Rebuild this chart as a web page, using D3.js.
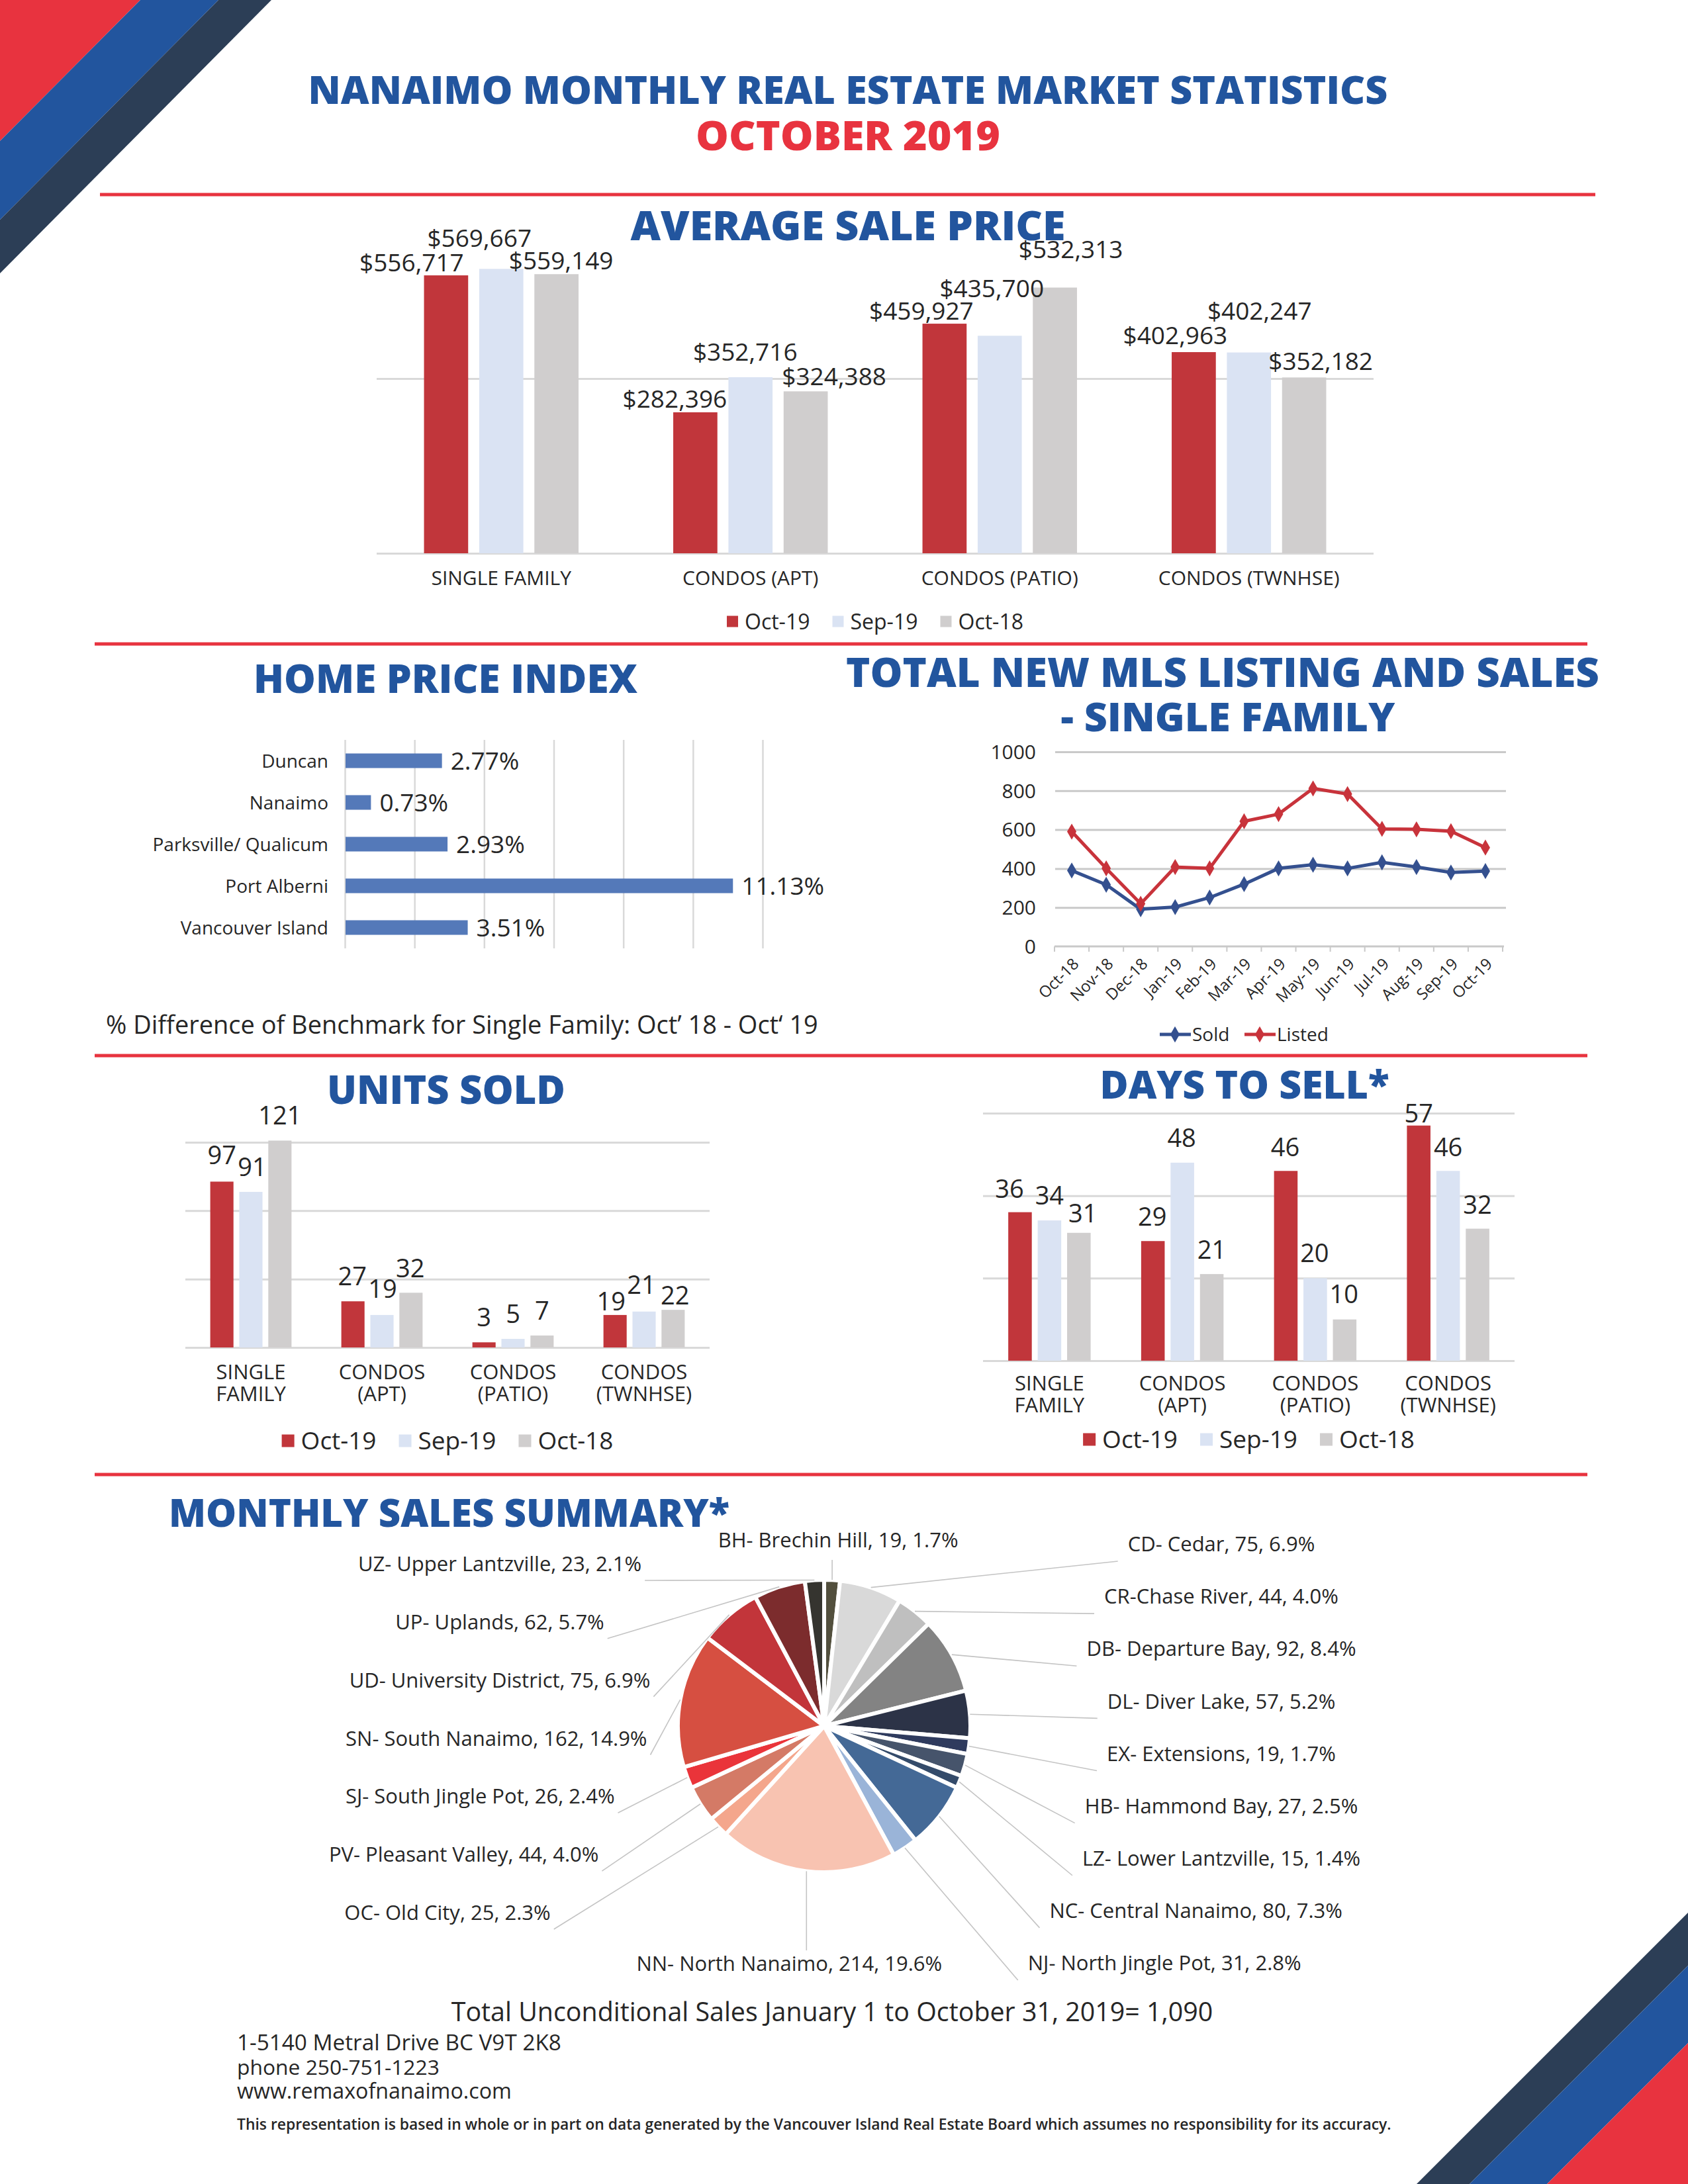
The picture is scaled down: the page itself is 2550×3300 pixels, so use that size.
<!DOCTYPE html>
<html>
<head>
<meta charset="utf-8">
<script src="https://cdn.jsdelivr.net/npm/d3@7"></script>
<style>
  body { margin: 0; background: #fff; }
  svg { display: block; }
</style>
</head>
<body>
<svg id="page"></svg>
<script>
// ---- data ----
const periods = ['Oct-19', 'Sep-19', 'Oct-18'];

const priceCats = ['SINGLE FAMILY', 'CONDOS (APT)', 'CONDOS (PATIO)', 'CONDOS (TWNHSE)'];
const priceOct19 = [556717, 282396, 459927, 402963];
const priceSep19 = [569667, 352716, 435700, 402247];
const priceOct18 = [559149, 324388, 532313, 352182];

const hpiAreas = ['Duncan', 'Nanaimo', 'Parksville/ Qualicum', 'Port Alberni', 'Vancouver Island'];
const hpiChange = [2.77, 0.73, 2.93, 11.13, 3.51];

const months = ['Oct-18', 'Nov-18', 'Dec-18', 'Jan-19', 'Feb-19', 'Mar-19', 'Apr-19',
  'May-19', 'Jun-19', 'Jul-19', 'Aug-19', 'Sep-19', 'Oct-19'];
const soldSF = [390, 317, 191, 202, 251, 320, 401, 420, 401, 432, 408, 380, 387];
const listedSF = [590, 401, 219, 408, 401, 643, 680, 812, 783, 604, 602, 592, 508];

const typeCats = [['SINGLE', 'FAMILY'], ['CONDOS', '(APT)'], ['CONDOS', '(PATIO)'], ['CONDOS', '(TWNHSE)']];
const unitsOct19 = [97, 27, 3, 19];
const unitsSep19 = [91, 19, 5, 21];
const unitsOct18 = [121, 32, 7, 22];

const daysOct19 = [36, 29, 46, 57];
const daysSep19 = [34, 48, 20, 46];
const daysOct18 = [31, 21, 10, 32];

const areaNames = ['BH- Brechin Hill', 'CD- Cedar', 'CR-Chase River', 'DB- Departure Bay', 'DL- Diver Lake',
  'EX- Extensions', 'HB- Hammond Bay', 'LZ- Lower Lantzville', 'NC- Central Nanaimo', 'NJ- North Jingle Pot',
  'NN- North Nanaimo', 'OC- Old City', 'PV- Pleasant Valley', 'SJ- South Jingle Pot', 'SN- South Nanaimo',
  'UD- University District', 'UP- Uplands', 'UZ- Upper Lantzville'];
const areaSales = [19, 75, 44, 92, 57, 19, 27, 15, 80, 31, 214, 25, 44, 26, 162, 75, 62, 23];

const totalSalesNote = 'Total Unconditional Sales January 1 to October 31, 2019= 1,090';

// ---- page ----
const W = 2550, H = 3300;
const FONT = "'Open Sans', 'Noto Sans', sans-serif";
const BLUE = '#22559e', RED = '#e8333f', NAVY = '#2c3e56', INK = '#262626';
const barColors = ['#c1363b', '#dae3f3', '#d0cece'];

const svg = d3.select('#page').attr('width', W).attr('height', H)
  .style('font-family', FONT);
svg.append('rect').attr('width', W).attr('height', H).attr('fill', '#fff');

// corner stripes
const stripes = [
  [[0, 0], [212, 0], [0, 213], RED],
  [[212, 0], [330, 0], [0, 332], [0, 213], BLUE],
  [[330, 0], [410, 0], [0, 413], [0, 332], NAVY],
  [[2140, 3300], [2220, 3300], [2550, 2970], [2550, 2890], NAVY],
  [[2220, 3300], [2337, 3300], [2550, 3087], [2550, 2970], BLUE],
  [[2337, 3300], [2550, 3300], [2550, 3087], RED]
];
stripes.forEach(s => {
  const pts = s.slice(0, -1);
  svg.append('polygon').attr('points', pts.map(p => p.join(',')).join(' ')).attr('fill', s[s.length - 1]);
});

// red rules
[[151, 2410, 294], [143, 2398, 973], [143, 2398, 1595], [143, 2398, 2228]].forEach(r => {
  svg.append('line').attr('x1', r[0]).attr('x2', r[1]).attr('y1', r[2]).attr('y2', r[2])
    .attr('stroke', RED).attr('stroke-width', 5);
});

function fitWidth(t, w) {
  const cur = t.node().getComputedTextLength();
  t.attr('font-size', parseFloat(t.attr('font-size')) * w / cur);
  return t;
}

function heading(txt, x, y, w, color, anchor) {
  const t = svg.append('text').attr('x', x).attr('y', y)
    .attr('text-anchor', anchor || 'middle')
    .attr('font-size', 56).attr('font-weight', 800)
    .attr('fill', color || BLUE).text(txt);
  return fitWidth(t, w);
}

heading('NANAIMO MONTHLY REAL ESTATE MARKET STATISTICS', 1281, 157, 1631);
heading('OCTOBER 2019', 1281, 227, 460, RED);
heading('AVERAGE SALE PRICE', 1281, 363, 657);
heading('HOME PRICE INDEX', 673, 1047, 580);
heading('TOTAL NEW MLS LISTING AND SALES', 1847, 1038, 1138);
heading('- SINGLE FAMILY', 1855, 1105, 505);
heading('UNITS SOLD', 674, 1668, 360);
heading('DAYS TO SELL*', 1880, 1660, 437);
heading('MONTHLY SALES SUMMARY*', 255, 2307, 847, BLUE, 'start');

// ---- grouped bar charts ----
function legendRow(cx, cy, fs, sq, gapIn, gapOut) {
  const lg = svg.append('g');
  let x = 0;
  periods.forEach((p, i) => {
    lg.append('rect').attr('x', x).attr('y', -sq / 2).attr('width', sq).attr('height', sq)
      .attr('fill', barColors[i]);
    x += sq + gapIn;
    const t = lg.append('text').attr('x', x).attr('dy', '0.36em')
      .attr('font-size', fs).attr('fill', INK).text(p);
    x += t.node().getComputedTextLength() + gapOut;
  });
  x -= gapOut;
  lg.attr('transform', `translate(${cx - x / 2},${cy})`);
}

function groupedBars(o) {
  const g = svg.append('g');
  const series = [o.a, o.b, o.c];
  const x0 = d3.scaleBand().domain(d3.range(o.cats.length)).range([o.left, o.right])
    .paddingInner(0.38).paddingOuter(0.19);
  const x1 = d3.scaleBand().domain(periods).range([0, x0.bandwidth()]).paddingInner(0.2);
  const y = d3.scaleLinear().domain([0, o.max]).range([o.base, o.top]);

  g.append('g').attr('transform', `translate(${o.left},0)`)
    .call(d3.axisLeft(y).tickValues(o.ticks).tickSize(-(o.right - o.left)).tickFormat(''))
    .call(a => a.select('.domain').remove())
    .call(a => a.selectAll('line').attr('stroke', '#d9d9d9').attr('stroke-width', 3));

  const cells = [];
  series.forEach((vals, s) => vals.forEach((v, i) => cells.push({ s, i, v })));

  g.selectAll('rect.bar').data(cells).enter().append('rect')
    .attr('x', d => x0(d.i) + x1(periods[d.s]))
    .attr('y', d => y(d.v))
    .attr('width', x1.bandwidth())
    .attr('height', d => o.base - y(d.v))
    .attr('fill', d => barColors[d.s]);

  g.selectAll('text.val').data(cells).enter().append('text')
    .attr('text-anchor', 'middle')
    .attr('font-size', o.valSize).attr('fill', INK)
    .attr('x', d => x0(d.i) + x1(periods[d.s]) + x1.bandwidth() / 2 + o.nudge[d.i][d.s][0])
    .attr('y', d => y(d.v) + o.nudge[d.i][d.s][1])
    .text(d => o.fmt(d.v));

  // category labels, one text element per category (lines as tspans)
  o.cats.forEach((c, i) => {
    const lines = Array.isArray(c) ? c : [c];
    const cx = x0(i) + x0.bandwidth() / 2;
    const t = g.append('text').attr('x', cx).attr('y', o.catY).attr('dy', '0.36em')
      .attr('text-anchor', 'middle').attr('font-size', o.catSize).attr('fill', INK);
    lines.forEach((ln, k) => {
      t.append('tspan').attr('x', cx).attr('y', o.catY + k * o.catStep).attr('dy', '0.36em').text(ln);
    });
  });

  legendRow((o.left + o.right) / 2, o.legendY, o.legSize, o.legSq, 10, 34);
}

// value-label nudges (dx, dy from bar top), one row per category, one pair per period
const priceLabelNudge = [
  [[-52, -6], [-33, -33], [7, -7]],
  [[-31, -7], [-8, -25], [43, -9]],
  [[-35, -6], [-12, -58], [24, -44]],
  [[-28, -12], [16, -50], [25, -11]]
];
const unitsLabelNudge = [
  [[0, -26], [2, -24], [0, -24]],
  [[-1, -24], [1, -26], [-1, -23]],
  [[0, -24], [0, -24], [0, -24]],
  [[-6, -7], [-4, -27], [3, -8]]
];
const daysLabelNudge = [
  [[-16, -22], [0, -24], [6, -16]],
  [[-1, -23], [-1, -24], [0, -23]],
  [[-1, -22], [-1, -24], [-1, -25]],
  [[0, -5], [0, -22], [0, -23]]
];

groupedBars({
  cats: priceCats, a: priceOct19, b: priceSep19, c: priceOct18,
  left: 569, right: 2075, base: 836, top: 308, max: 700000, ticks: [0, 350000],
  fmt: d3.format('$,'), valSize: 37, nudge: priceLabelNudge,
  catY: 873, catStep: 0, catSize: 30, legendY: 939, legSize: 32, legSq: 17
});

groupedBars({
  cats: typeCats, a: unitsOct19, b: unitsSep19, c: unitsOct18,
  left: 280, right: 1072, base: 2036, top: 1726, max: 120, ticks: [0, 40, 80, 120],
  fmt: d3.format('d'), valSize: 38, nudge: unitsLabelNudge,
  catY: 2073, catStep: 33, catSize: 31, legendY: 2177, legSize: 37, legSq: 19
});

groupedBars({
  cats: typeCats, a: daysOct19, b: daysSep19, c: daysOct18,
  left: 1485, right: 2288, base: 2056, top: 1682, max: 60, ticks: [0, 20, 40, 60],
  fmt: d3.format('d'), valSize: 38, nudge: daysLabelNudge,
  catY: 2090, catStep: 33, catSize: 31, legendY: 2175, legSize: 37, legSq: 19
});

// ---- home price index ----
{
  const g = svg.append('g');
  const x = d3.scaleLinear().domain([0, 12]).range([521, 1152]);
  const y = d3.scaleBand().domain(hpiAreas).range([1118, 1433]).paddingInner(0.65).paddingOuter(0.325);

  g.append('g').attr('transform', 'translate(0,1433)')
    .call(d3.axisBottom(x).tickValues(d3.range(0, 13, 2)).tickSize(-315).tickFormat(''))
    .call(a => a.select('.domain').remove())
    .call(a => a.selectAll('line').attr('stroke', '#d9d9d9').attr('stroke-width', 2.5));

  g.selectAll('rect').data(hpiChange).enter().append('rect')
    .attr('x', x(0) + 1).attr('y', (d, i) => y(hpiAreas[i]))
    .attr('width', d => x(d) - x(0)).attr('height', y.bandwidth())
    .attr('fill', '#5479b9');

  g.selectAll('text.v').data(hpiChange).enter().append('text')
    .attr('x', d => x(d) + 14).attr('y', (d, i) => y(hpiAreas[i]) + y.bandwidth() / 2)
    .attr('dy', '0.36em').attr('font-size', 37).attr('fill', INK)
    .text(d => d.toFixed(2) + '%');

  g.selectAll('text.c').data(hpiAreas).enter().append('text')
    .attr('x', 496).attr('y', d => y(d) + y.bandwidth() / 2)
    .attr('dy', '0.36em').attr('text-anchor', 'end').attr('font-size', 28)
    .attr('font-weight', 500).attr('fill', INK)
    .text(d => d);

  const note = g.append('text').attr('x', 160).attr('y', 1548).attr('dy', '0.36em')
    .attr('font-size', 34).attr('fill', INK)
    .text('% Difference of Benchmark for Single Family: Oct\u2019 18 - Oct\u2018 19');
  fitWidth(note, 1076);
}

// ---- new listings vs sales line chart ----
{
  const g = svg.append('g');
  const x = d3.scaleBand().domain(months).range([1593, 2270]);
  const y = d3.scaleLinear().domain([0, 1000]).range([1430, 1136]);
  const cxm = m => x(m) + x.bandwidth() / 2;

  g.append('g').attr('transform', 'translate(1594,0)')
    .call(d3.axisLeft(y).tickValues(d3.range(200, 1001, 200)).tickSize(-681).tickFormat(''))
    .call(a => a.select('.domain').remove())
    .call(a => a.selectAll('line').attr('stroke', '#c9c9c9').attr('stroke-width', 3));

  g.append('line').attr('x1', 1593).attr('x2', 2272).attr('y1', y(0)).attr('y2', y(0))
    .attr('stroke', '#c9c9c9').attr('stroke-width', 3);
  g.selectAll('line.tk').data(months.concat(['end'])).enter().append('line')
    .attr('x1', (d, i) => 1593 + i * x.step()).attr('x2', (d, i) => 1593 + i * x.step())
    .attr('y1', y(0)).attr('y2', y(0) + 8).attr('stroke', '#c9c9c9').attr('stroke-width', 2);

  g.selectAll('text.yt').data(d3.range(0, 1001, 200)).enter().append('text')
    .attr('x', 1565).attr('y', d => y(d)).attr('dy', '0.36em').attr('text-anchor', 'end')
    .attr('font-size', 30).attr('fill', INK).text(d => d);

  g.selectAll('text.xt').data(months).enter().append('text')
    .attr('transform', d => `translate(${cxm(d) + 6},${y(0) + 22}) rotate(-45)`)
    .attr('text-anchor', 'end').attr('dy', '0.36em')
    .attr('font-size', 24).attr('fill', INK).text(d => d);

  const line = d3.line().x((d, i) => cxm(months[i])).y(d => y(d));
  const diamond = d3.symbol().type(d3.symbolDiamond).size(170);
  [[soldSF, '#34508f'], [listedSF, '#c8333b']].forEach(([vals, col]) => {
    g.append('path').attr('d', line(vals)).attr('fill', 'none')
      .attr('stroke', col).attr('stroke-width', 5).attr('stroke-linejoin', 'round');
    g.selectAll(null).data(vals).enter().append('path')
      .attr('d', diamond)
      .attr('transform', (d, i) => `translate(${cxm(months[i])},${y(d)})`)
      .attr('fill', col);
  });

  [['Sold', '#34508f', 1752], ['Listed', '#c8333b', 1880]].forEach(([lab, col, lx]) => {
    g.append('line').attr('x1', lx).attr('x2', lx + 47).attr('y1', 1563).attr('y2', 1563)
      .attr('stroke', col).attr('stroke-width', 5);
    g.append('path').attr('d', diamond).attr('transform', `translate(${lx + 23},1563)`).attr('fill', col);
    g.append('text').attr('x', lx + 49).attr('y', 1563).attr('dy', '0.36em')
      .attr('font-size', 28).attr('fill', INK).text(lab);
  });
}

// ---- monthly sales summary pie ----
{
  const g = svg.append('g');
  const cx = 1245, cy = 2608, R = 221;
  const total = d3.sum(areaSales);
  const pieColors = ['#524f3d', '#d9d9d9', '#bfbfbf', '#838383', '#2c3347', '#2f3b5e', '#46546b',
    '#344b6a', '#446996', '#9ab4d8', '#f8c3b1', '#f4a68c', '#d47a66', '#ea343a', '#d64f41',
    '#c2353a', '#7c2c2d', '#35342f'];
  const arcs = d3.pie().sort(null).value(d => d)(areaSales);
  const arc = d3.arc().innerRadius(0).outerRadius(R);

  g.append('g').attr('transform', `translate(${cx},${cy})`)
    .selectAll('path').data(arcs).enter().append('path')
    .attr('d', arc).attr('fill', (d, i) => pieColors[i])
    .attr('stroke', '#fff').attr('stroke-width', 6).attr('stroke-linejoin', 'round');

  const items = arcs.map((a, i) => {
    const mid = (a.startAngle + a.endAngle) / 2;
    return {
      i, mid,
      px: cx + R * Math.sin(mid), py: cy - R * Math.cos(mid),
      label: `${areaNames[i]}, ${areaSales[i]}, ${(areaSales[i] / total * 100).toFixed(1)}%`
    };
  });
  const top = items.filter(d => d.mid < 0.1);
  const bottom = items.filter(d => Math.abs(d.mid - Math.PI) < 0.3);
  const right = items.filter(d => d.mid >= 0.1 && d.mid < Math.PI - 0.3);
  const left = items.filter(d => d.mid > Math.PI + 0.3).sort((a, b) => b.mid - a.mid);

  const ry = d3.scaleLinear().domain([0, right.length - 1]).range([cy - 275, cy + 358]);
  right.forEach((d, k) => {
    d.ly = ry(k);
    d.lx = cx + 600 - 0.6 * Math.max(0, d.ly - cy - 215);
    d.side = 'right';
  });
  const lyS = d3.scaleLinear().domain([0, left.length - 1]).range([cy - 245, cy + 282]);
  left.forEach((d, k) => {
    d.ly = lyS(k);
    d.lx = cx - 490 - 0.28 * Math.max(0, d.ly - cy);
    d.side = 'left';
  });
  top.forEach(d => { d.lx = d.px + 9; d.ly = cy - R - 60; d.side = 'top'; });
  bottom.forEach(d => { d.lx = d.px - 26; d.ly = cy + R + 138; d.side = 'bottom'; });

  const all = top.concat(right, bottom, left);
  all.forEach(d => {
    const t = g.append('text').attr('x', d.lx).attr('y', d.ly).attr('dy', '0.36em')
      .attr('text-anchor', 'middle').attr('font-size', 31).attr('font-weight', 500)
      .attr('fill', INK).text(d.label);
    const w = t.node().getComputedTextLength();
    let ex, ey;
    if (d.side === 'right') { ex = d.lx - w / 2 - 15; ey = d.ly + 26; }
    else if (d.side === 'left') { ex = d.lx + w / 2 + 5; ey = d.ly + 25; }
    else if (d.side === 'top') { ex = d.px; ey = d.ly + 30; }
    else { ex = d.px; ey = d.ly - 20; }
    g.insert('line', 'text').attr('x1', d.px).attr('y1', d.py).attr('x2', ex).attr('y2', ey)
      .attr('stroke', '#c4c4c4').attr('stroke-width', 1.6);
  });
}

// ---- footer ----
fitWidth(svg.append('text').attr('x', 1257).attr('y', 3040).attr('dy', '0.36em')
  .attr('text-anchor', 'middle').attr('font-size', 36).attr('fill', INK).text(totalSalesNote), 1151);

[['1-5140 Metral Drive BC V9T 2K8', 3086, 490],
 ['phone 250-751-1223', 3124, 306],
 ['www.remaxofnanaimo.com', 3159, 415]].forEach(([txt, yy, w]) => {
  fitWidth(svg.append('text').attr('x', 358).attr('y', yy).attr('dy', '0.36em')
    .attr('font-size', 28).attr('font-weight', 500).attr('fill', INK).text(txt), w);
});

fitWidth(svg.append('text').attr('x', 358).attr('y', 3210).attr('dy', '0.36em')
  .attr('font-size', 22).attr('font-weight', 600).attr('fill', INK)
  .text('This representation is based in whole or in part on data generated by the Vancouver Island Real Estate Board which assumes no responsibility for its accuracy.'), 1745);
</script>
</body>
</html>
